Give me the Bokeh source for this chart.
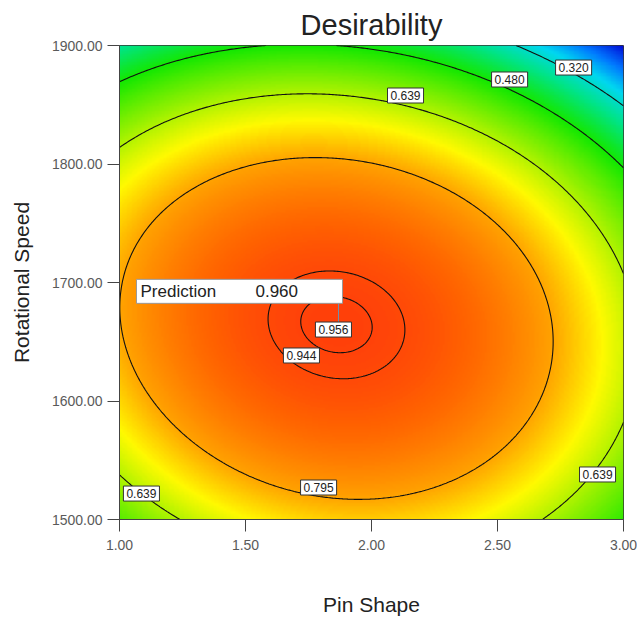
import numpy as np
from bokeh.plotting import figure
from bokeh.models import (Range1d, LinearColorMapper, FixedTicker,
                          PrintfTickFormatter, Label, BoxAnnotation)
from bokeh.embed import file_html
from bokeh.resources import INLINE

# ---------------- data ----------------
pin_shape_limits = [1.0, 3.0]
speed_limits = [1500.0, 1900.0]
x_tick_values = [1.0, 1.5, 2.0, 2.5, 3.0]
y_tick_values = [1500, 1600, 1700, 1800, 1900]
contour_levels = [0.320, 0.480, 0.639, 0.795, 0.944, 0.956]

# desirability surface, coded factors A=(Pin Shape-2), B=(Speed-1700)/200
optimum_coded = [-0.139, -0.177]
peak_desirability = 0.9605
coef_AA = 0.2261
coef_BB = 0.3224
coef_BBB = 0.0208
coef_AB = 0.0538

# contour labels as placed on the plot
label_text = ["0.320", "0.480", "0.639", "0.639", "0.639", "0.795", "0.944", "0.956"]
label_x = [2.802, 2.548, 2.135, 1.087, 2.897, 1.790, 1.722, 1.849]
label_y = [1881.4, 1871.3, 1857.8, 1521.9, 1538.0, 1527.0, 1638.4, 1660.3]

# prediction flag
pred_x = 1.869
pred_y = 1663.0
pred_value = 0.960

# ---------------- surface grid ----------------
xs = np.linspace(pin_shape_limits[0], pin_shape_limits[1], 301)
ys = np.linspace(speed_limits[0], speed_limits[1], 301)
X, Y = np.meshgrid(xs, ys)
U = (X - 2.0) - optimum_coded[0]
V = (Y - 1700.0) / 200.0 - optimum_coded[1]
Z = peak_desirability - coef_AA * U**2 - coef_BB * V**2 - coef_BBB * V**3 - coef_AB * U * V

# ---------------- colour scale ----------------
anchor_d = [0.10, 0.20, 0.28, 0.37, 0.48, 0.60, 0.71, 0.80, 0.90, 0.96, 1.00]
anchor_rgb = [(0, 0, 210), (0, 120, 255), (0, 215, 240), (0, 228, 140),
              (20, 232, 0), (140, 240, 0), (255, 250, 0), (255, 160, 0),
              (255, 100, 0), (255, 65, 10), (255, 40, 0)]
grid_d = np.linspace(0.10, 1.00, 256)
chans = [np.interp(grid_d, anchor_d, [c[i] for c in anchor_rgb]) for i in range(3)]
palette = ["#%02x%02x%02x" % (int(r), int(g), int(b)) for r, g, b in zip(*chans)]
mapper = LinearColorMapper(palette=palette, low=0.10, high=1.00)

FONT = "Liberation Sans"

p = figure(width=637, height=618, output_backend="svg", toolbar_location=None,
           x_range=Range1d(*pin_shape_limits), y_range=Range1d(*speed_limits),
           min_border_left=119, min_border_right=14, min_border_top=45,
           min_border_bottom=99, title="Desirability")

p.image(image=[Z], x=pin_shape_limits[0], y=speed_limits[0],
        dw=pin_shape_limits[1] - pin_shape_limits[0],
        dh=speed_limits[1] - speed_limits[0], color_mapper=mapper)

p.contour(xs, ys, Z, levels=contour_levels, line_color="#111111", line_width=1.1)

# title
p.title.text_font = FONT
p.title.text_font_size = "29px"
p.title.text_font_style = "normal"
p.title.text_color = "#222222"
p.title.align = "center"

p.grid.visible = False
p.outline_line_color = "#333333"
p.background_fill_color = "white"

for ax in (p.xaxis[0], p.yaxis[0]):
    ax.formatter = PrintfTickFormatter(format="%.2f")
    ax.major_tick_out = 12
    ax.major_tick_in = 0
    ax.minor_tick_out = 0
    ax.minor_tick_in = 0
    ax.major_tick_line_color = "#444444"
    ax.axis_line_color = "#444444"
    ax.major_label_text_font = FONT
    ax.major_label_text_font_size = "14px"
    ax.major_label_text_color = "#5a5a5a"
    ax.axis_label_text_font = FONT
    ax.axis_label_text_font_size = "21px"
    ax.axis_label_text_font_style = "normal"
    ax.axis_label_text_color = "#222222"

p.xaxis.ticker = FixedTicker(ticks=x_tick_values)
p.yaxis.ticker = FixedTicker(ticks=y_tick_values)
p.xaxis.axis_label = "Pin Shape"
p.yaxis.axis_label = "Rotational Speed"
p.xaxis.major_label_standoff = 8
p.xaxis.axis_label_standoff = 40
p.yaxis.major_label_standoff = 5
p.yaxis.axis_label_standoff = 16

# contour labels
for t, lx, ly in zip(label_text, label_x, label_y):
    p.add_layout(Label(x=lx, y=ly, text=t, text_align="center", text_baseline="middle",
                       text_font=FONT, text_font_size="12px", text_color="#222222",
                       background_fill_color="white", border_line_color="#333333",
                       border_line_width=1, padding=3))

# prediction flag (box offsets expressed in screen pixels -> data units)
px_per_x = 504.0 / (pin_shape_limits[1] - pin_shape_limits[0])
px_per_y = 474.0 / (speed_limits[1] - speed_limits[0])
box = BoxAnnotation(left=pred_x - 202 / px_per_x, right=pred_x + 4 / px_per_x,
                    bottom=pred_y + 23 / px_per_y, top=pred_y + 47 / px_per_y,
                    fill_color="white", fill_alpha=1.0, line_color="#999999",
                    line_width=1, line_alpha=1.0)
p.add_layout(box)
p.segment(x0=[pred_x], y0=[pred_y], x1=[pred_x], y1=[pred_y + 23 / px_per_y],
          line_color="#6f8fb0", line_width=1)
p.add_layout(Label(x=pred_x, y=pred_y, x_offset=-198, y_offset=35, text="Prediction",
                   text_align="left", text_baseline="middle", text_font=FONT,
                   text_font_size="17px", text_color="#222222"))
p.add_layout(Label(x=pred_x, y=pred_y, x_offset=-83, y_offset=35, text="%.3f" % pred_value,
                   text_align="left", text_baseline="middle", text_font=FONT,
                   text_font_size="17px", text_color="#222222"))

open("out.html", "w").write(file_html(p, INLINE))
